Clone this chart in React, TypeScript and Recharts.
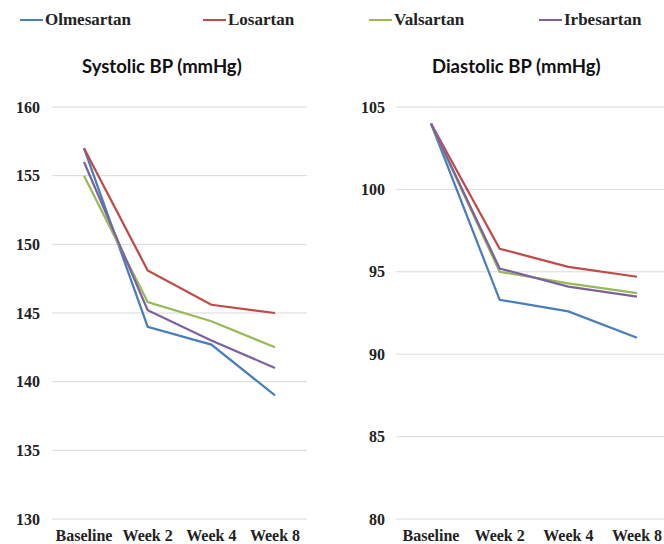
import { LineChart, Line, XAxis, YAxis, CartesianGrid } from 'recharts';

const weeks = ['Baseline', 'Week 2', 'Week 4', 'Week 8'];

// systolic BP (mmHg)
const olmesartanSys = [157, 144, 142.7, 139];
const losartanSys = [157, 148.1, 145.6, 145];
const valsartanSys = [155, 145.8, 144.4, 142.5];
const irbesartanSys = [156, 145.2, 143, 141];

// diastolic BP (mmHg)
const olmesartanDia = [104, 93.3, 92.6, 91];
const losartanDia = [104, 96.4, 95.3, 94.7];
const valsartanDia = [104, 95, 94.3, 93.7];
const irbesartanDia = [104, 95.2, 94.1, 93.5];

const sysTicks = [130, 135, 140, 145, 150, 155, 160];
const diaTicks = [80, 85, 90, 95, 100, 105];

const series = [
  { key: 'Olmesartan', color: '#4a7ebb' },
  { key: 'Losartan', color: '#be4b48' },
  { key: 'Valsartan', color: '#98b954' },
  { key: 'Irbesartan', color: '#7d60a0' },
];

const sysData = weeks.map((w, i) => ({
  week: w,
  Olmesartan: olmesartanSys[i],
  Losartan: losartanSys[i],
  Valsartan: valsartanSys[i],
  Irbesartan: irbesartanSys[i],
}));

const diaData = weeks.map((w, i) => ({
  week: w,
  Olmesartan: olmesartanDia[i],
  Losartan: losartanDia[i],
  Valsartan: valsartanDia[i],
  Irbesartan: irbesartanDia[i],
}));

const serif = '"Liberation Serif", serif';
const sans = 'Lato, "Open Sans", sans-serif';
const tickStyle = { fontFamily: serif, fontWeight: 700, fontSize: 16, fill: '#222' };

// legend item left positions, in page px
const legendX = [20, 203, 369, 539];

function BPChart({ data, ticks, width, yWidth, marginRight, tickMargin, pad }: any) {
  return (
    <LineChart
      width={width}
      height={544}
      data={data}
      margin={{ top: 107, right: marginRight, bottom: 0, left: 0 }}
    >
      <CartesianGrid vertical={false} stroke="#d9d9d9" />
      <XAxis
        dataKey="week"
        axisLine={false}
        tickLine={false}
        height={25}
        tick={{ ...tickStyle, dy: 3 }}
        interval={0}
        padding={{ left: pad, right: pad }}
      />
      <YAxis
        width={yWidth}
        domain={[ticks[0], ticks[ticks.length - 1]]}
        ticks={ticks}
        axisLine={false}
        tickLine={false}
        tickMargin={tickMargin}
        tick={tickStyle}
      />
      {series.map((s) => (
        <Line
          key={s.key}
          type="linear"
          dataKey={s.key}
          stroke={s.color}
          strokeWidth={2.25}
          dot={false}
          activeDot={false}
          isAnimationActive={false}
        />
      ))}
    </LineChart>
  );
}

export default function App() {
  return (
    <div
      style={{
        position: 'absolute',
        left: 0,
        top: 0,
        width: 664,
        height: 544,
        overflow: 'hidden',
        background: '#fff',
      }}
    >
      {series.map((s, i) => (
        <div
          key={s.key}
          style={{
            position: 'absolute',
            left: legendX[i],
            top: 10,
            display: 'flex',
            alignItems: 'center',
            fontFamily: serif,
            fontWeight: 700,
            fontSize: 17,
            color: '#222',
          }}
        >
          <span style={{ display: 'inline-block', width: 23, height: 2, background: s.color }} />
          <span style={{ marginLeft: 2 }}>{s.key}</span>
        </div>
      ))}
      <div
        style={{
          position: 'absolute',
          left: 82,
          top: 55,
          fontFamily: sans,
          fontWeight: 700,
          fontSize: 18.5,
          color: '#111',
        }}
      >
        Systolic BP (mmHg)
      </div>
      <div
        style={{
          position: 'absolute',
          left: 432,
          top: 55,
          fontFamily: sans,
          fontWeight: 700,
          fontSize: 18.5,
          color: '#111',
        }}
      >
        Diastolic BP (mmHg)
      </div>
      <div style={{ position: 'absolute', left: 0, top: 0 }}>
        <BPChart data={sysData} ticks={sysTicks} width={332} yWidth={52} marginRight={25} tickMargin={6} pad={32} />
      </div>
      <div style={{ position: 'absolute', left: 332, top: 0 }}>
        <BPChart data={diaData} ticks={diaTicks} width={340} yWidth={64} marginRight={0} tickMargin={5} pad={35} />
      </div>
    </div>
  );
}
